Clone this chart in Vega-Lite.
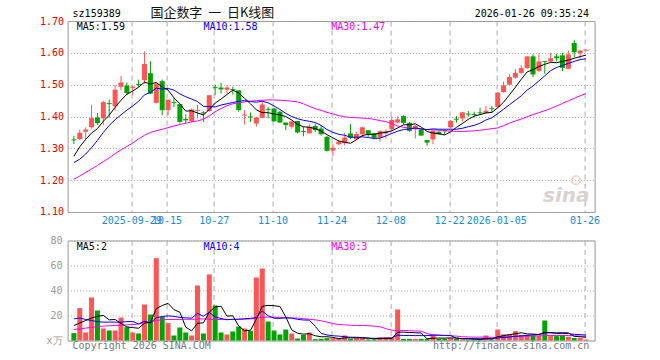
{
  "$schema": "https://vega.github.io/schema/vega-lite/v6.json",
  "background": "white",
  "padding": {"left": 38.6, "top": 6, "right": 0, "bottom": 0},
  "bounds": "flush",
  "spacing": 28.5,
  "config": {
    "view": {"stroke": "#999", "strokeWidth": 1},
    "axis": {"labelFont": "DejaVu Sans Mono", "labelFontSize": 10, "ticks": false, "domain": false, "title": null}
  },
  "datasets": {
    "k": [
      {"i":0,"o":1.328,"h":1.339,"l":1.314,"c":1.325,"m5":1.275,"m10":1.255,"m30":1.203,"v":5.9,"v5":12,"v10":17.3,"v30":8.8},
      {"i":1,"o":1.329,"h":1.359,"l":1.326,"c":1.349,"m5":1.305,"m10":1.266,"m30":1.213,"v":25.9,"v5":14,"v10":18,"v30":9.3},
      {"i":2,"o":1.352,"h":1.366,"l":1.328,"c":1.359,"m5":1.328,"m10":1.282,"m30":1.224,"v":6.4,"v5":16,"v10":16.8,"v30":9.9},
      {"i":3,"o":1.366,"h":1.437,"l":1.362,"c":1.395,"m5":1.348,"m10":1.302,"m30":1.235,"v":34.4,"v5":18,"v10":16,"v30":10.5},
      {"i":4,"o":1.397,"h":1.411,"l":1.373,"c":1.379,"m5":1.362,"m10":1.325,"m30":1.246,"v":24,"v5":19.3,"v10":15,"v30":11},
      {"i":5,"o":1.394,"h":1.449,"l":1.373,"c":1.445,"m5":1.385,"m10":1.35,"m30":1.258,"v":9.6,"v5":20.1,"v10":14.7,"v30":11.5},
      {"i":6,"o":1.442,"h":1.453,"l":1.396,"c":1.439,"m5":1.404,"m10":1.372,"m30":1.27,"v":8,"v5":16.5,"v10":14.7,"v30":11.8},
      {"i":7,"o":1.432,"h":1.498,"l":1.418,"c":1.484,"m5":1.429,"m10":1.39,"m30":1.283,"v":8,"v5":16.8,"v10":14.7,"v30":12},
      {"i":8,"o":1.493,"h":1.527,"l":1.482,"c":1.507,"m5":1.451,"m10":1.405,"m30":1.295,"v":18.4,"v5":13.6,"v10":14.7,"v30":12.2},
      {"i":9,"o":1.497,"h":1.507,"l":1.467,"c":1.474,"m5":1.47,"m10":1.42,"m30":1.306,"v":10.7,"v5":10.9,"v10":15.1,"v30":12.5},
      {"i":10,"o":1.49,"h":1.494,"l":1.467,"c":1.494,"m5":1.48,"m10":1.433,"m30":1.316,"v":6.4,"v5":10.3,"v10":15.2,"v30":12.8},
      {"i":11,"o":1.502,"h":1.516,"l":1.493,"c":1.499,"m5":1.492,"m10":1.448,"m30":1.33,"v":5.6,"v5":9.8,"v10":13.2,"v30":13.2},
      {"i":12,"o":1.514,"h":1.604,"l":1.503,"c":1.565,"m5":1.508,"m10":1.468,"m30":1.341,"v":28.8,"v5":14,"v10":15.4,"v30":14},
      {"i":13,"o":1.536,"h":1.574,"l":1.47,"c":1.472,"m5":1.502,"m10":1.476,"m30":1.35,"v":20.8,"v5":14.5,"v10":14,"v30":15},
      {"i":14,"o":1.443,"h":1.508,"l":1.441,"c":1.503,"m5":1.507,"m10":1.489,"m30":1.355,"v":65.9,"v5":25.5,"v10":18.2,"v30":16},
      {"i":15,"o":1.511,"h":1.516,"l":1.404,"c":1.42,"m5":1.493,"m10":1.486,"m30":1.36,"v":18.9,"v5":28,"v10":19.2,"v30":16.5},
      {"i":16,"o":1.42,"h":1.453,"l":1.403,"c":1.453,"m5":1.483,"m10":1.488,"m30":1.365,"v":13.9,"v5":29.7,"v10":19.7,"v30":16.8},
      {"i":17,"o":1.445,"h":1.459,"l":1.43,"c":1.442,"m5":1.459,"m10":1.483,"m30":1.37,"v":4,"v5":24.7,"v10":19.3,"v30":16.8},
      {"i":18,"o":1.439,"h":1.439,"l":1.378,"c":1.383,"m5":1.44,"m10":1.471,"m30":1.375,"v":10.4,"v5":22.6,"v10":18.5,"v30":16.8},
      {"i":19,"o":1.392,"h":1.407,"l":1.378,"c":1.388,"m5":1.417,"m10":1.462,"m30":1.379,"v":6.4,"v5":10.7,"v10":18.1,"v30":16.9},
      {"i":20,"o":1.385,"h":1.425,"l":1.383,"c":1.422,"m5":1.418,"m10":1.455,"m30":1.383,"v":4,"v5":7.7,"v10":17.9,"v30":17},
      {"i":21,"o":1.418,"h":1.436,"l":1.394,"c":1.421,"m5":1.411,"m10":1.447,"m30":1.386,"v":44,"v5":13.8,"v10":21.7,"v30":17.1},
      {"i":22,"o":1.413,"h":1.417,"l":1.383,"c":1.41,"m5":1.405,"m10":1.432,"m30":1.392,"v":5.6,"v5":14.1,"v10":19.4,"v30":17.3},
      {"i":23,"o":1.417,"h":1.467,"l":1.415,"c":1.467,"m5":1.422,"m10":1.431,"m30":1.402,"v":52.8,"v5":22.6,"v10":22.6,"v30":17},
      {"i":24,"o":1.492,"h":1.5,"l":1.467,"c":1.489,"m5":1.442,"m10":1.43,"m30":1.415,"v":28,"v5":26.9,"v10":18.8,"v30":16.8},
      {"i":25,"o":1.491,"h":1.506,"l":1.472,"c":1.485,"m5":1.455,"m10":1.436,"m30":1.425,"v":6.4,"v5":27.4,"v10":17.6,"v30":16.8},
      {"i":26,"o":1.484,"h":1.498,"l":1.472,"c":1.491,"m5":1.469,"m10":1.44,"m30":1.434,"v":4.8,"v5":19.5,"v10":16.6,"v30":16.8},
      {"i":27,"o":1.486,"h":1.494,"l":1.469,"c":1.483,"m5":1.483,"m10":1.444,"m30":1.44,"v":7.2,"v5":19.8,"v10":17,"v30":16.8},
      {"i":28,"o":1.482,"h":1.482,"l":1.415,"c":1.42,"m5":1.474,"m10":1.448,"m30":1.443,"v":11.2,"v5":11.5,"v10":17,"v30":17},
      {"i":29,"o":1.403,"h":1.42,"l":1.375,"c":1.406,"m5":1.457,"m10":1.45,"m30":1.446,"v":9.6,"v5":7.8,"v10":17.4,"v30":17.1},
      {"i":30,"o":1.4,"h":1.413,"l":1.383,"c":1.397,"m5":1.44,"m10":1.447,"m30":1.448,"v":7.7,"v5":8.1,"v10":17.7,"v30":17.3},
      {"i":31,"o":1.378,"h":1.399,"l":1.368,"c":1.397,"m5":1.421,"m10":1.445,"m30":1.45,"v":50.4,"v5":17.2,"v10":18.4,"v30":17.8},
      {"i":32,"o":1.396,"h":1.446,"l":1.394,"c":1.438,"m5":1.412,"m10":1.448,"m30":1.451,"v":57.6,"v5":27.3,"v10":23.6,"v30":18.5},
      {"i":33,"o":1.424,"h":1.43,"l":1.394,"c":1.421,"m5":1.412,"m10":1.443,"m30":1.452,"v":15.2,"v5":28.1,"v10":19.8,"v30":18.7},
      {"i":34,"o":1.425,"h":1.427,"l":1.383,"c":1.385,"m5":1.408,"m10":1.433,"m30":1.452,"v":8,"v5":27.8,"v10":17.8,"v30":18.6},
      {"i":35,"o":1.415,"h":1.417,"l":1.379,"c":1.381,"m5":1.405,"m10":1.422,"m30":1.451,"v":4.8,"v5":27.2,"v10":17.7,"v30":18.4},
      {"i":36,"o":1.381,"h":1.381,"l":1.357,"c":1.373,"m5":1.4,"m10":1.41,"m30":1.45,"v":8.8,"v5":18.9,"v10":18.1,"v30":18.2},
      {"i":37,"o":1.368,"h":1.385,"l":1.362,"c":1.385,"m5":1.389,"m10":1.4,"m30":1.448,"v":5.6,"v5":8.5,"v10":17.9,"v30":18},
      {"i":38,"o":1.386,"h":1.386,"l":1.347,"c":1.35,"m5":1.375,"m10":1.393,"m30":1.446,"v":1.6,"v5":5.8,"v10":16.9,"v30":17.9},
      {"i":39,"o":1.354,"h":1.368,"l":1.338,"c":1.351,"m5":1.368,"m10":1.388,"m30":1.44,"v":4.5,"v5":5.1,"v10":16.4,"v30":17.5},
      {"i":40,"o":1.347,"h":1.375,"l":1.347,"c":1.368,"m5":1.366,"m10":1.385,"m30":1.432,"v":6.4,"v5":5.4,"v10":16.3,"v30":17},
      {"i":41,"o":1.37,"h":1.378,"l":1.352,"c":1.357,"m5":1.362,"m10":1.381,"m30":1.425,"v":1.1,"v5":3.8,"v10":11.4,"v30":16.5},
      {"i":42,"o":1.362,"h":1.373,"l":1.34,"c":1.344,"m5":1.354,"m10":1.372,"m30":1.419,"v":1.3,"v5":3,"v10":5.7,"v30":15.8},
      {"i":43,"o":1.336,"h":1.339,"l":1.29,"c":1.292,"m5":1.343,"m10":1.359,"m30":1.413,"v":1.9,"v5":3,"v10":4.4,"v30":14.7},
      {"i":44,"o":1.293,"h":1.314,"l":1.276,"c":1.302,"m5":1.333,"m10":1.35,"m30":1.408,"v":1.9,"v5":2.5,"v10":3.8,"v30":13.5},
      {"i":45,"o":1.313,"h":1.326,"l":1.31,"c":1.321,"m5":1.323,"m10":1.344,"m30":1.403,"v":1.5,"v5":1.5,"v10":3.5,"v30":12.8},
      {"i":46,"o":1.316,"h":1.349,"l":1.31,"c":1.334,"m5":1.319,"m10":1.341,"m30":1.399,"v":4,"v5":2.1,"v10":3,"v30":12.5},
      {"i":47,"o":1.347,"h":1.376,"l":1.329,"c":1.333,"m5":1.316,"m10":1.335,"m30":1.397,"v":1.3,"v5":2.1,"v10":2.6,"v30":12.2},
      {"i":48,"o":1.329,"h":1.352,"l":1.326,"c":1.345,"m5":1.327,"m10":1.335,"m30":1.396,"v":1.9,"v5":2.1,"v10":2.6,"v30":12},
      {"i":49,"o":1.344,"h":1.368,"l":1.336,"c":1.366,"m5":1.34,"m10":1.336,"m30":1.395,"v":1.9,"v5":2.1,"v10":2.3,"v30":12},
      {"i":50,"o":1.357,"h":1.357,"l":1.336,"c":1.344,"m5":1.344,"m10":1.334,"m30":1.394,"v":0.8,"v5":2,"v10":1.8,"v30":11.8},
      {"i":51,"o":1.347,"h":1.349,"l":1.328,"c":1.333,"m5":1.344,"m10":1.331,"m30":1.391,"v":0.8,"v5":1.3,"v10":1.7,"v30":11.5},
      {"i":52,"o":1.334,"h":1.357,"l":1.321,"c":1.354,"m5":1.348,"m10":1.332,"m30":1.387,"v":2.4,"v5":1.6,"v10":1.8,"v30":11},
      {"i":53,"o":1.347,"h":1.359,"l":1.331,"c":1.354,"m5":1.35,"m10":1.339,"m30":1.384,"v":2.4,"v5":1.7,"v10":1.9,"v30":9.5},
      {"i":54,"o":1.36,"h":1.401,"l":1.357,"c":1.389,"m5":1.355,"m10":1.347,"m30":1.378,"v":2.4,"v5":1.8,"v10":1.9,"v30":8.2},
      {"i":55,"o":1.381,"h":1.401,"l":1.378,"c":1.391,"m5":1.364,"m10":1.354,"m30":1.37,"v":24.8,"v5":6.6,"v10":4.3,"v30":8},
      {"i":56,"o":1.401,"h":1.404,"l":1.376,"c":1.38,"m5":1.374,"m10":1.359,"m30":1.366,"v":1.3,"v5":6.7,"v10":4,"v30":8},
      {"i":57,"o":1.38,"h":1.383,"l":1.352,"c":1.355,"m5":1.374,"m10":1.361,"m30":1.364,"v":1.3,"v5":6.4,"v10":4,"v30":7.8},
      {"i":58,"o":1.36,"h":1.373,"l":1.331,"c":1.371,"m5":1.377,"m10":1.364,"m30":1.362,"v":1.3,"v5":6.2,"v10":3.9,"v30":7.6},
      {"i":59,"o":1.359,"h":1.363,"l":1.34,"c":1.34,"m5":1.367,"m10":1.361,"m30":1.361,"v":1.3,"v5":6,"v10":3.9,"v30":7.5},
      {"i":60,"o":1.326,"h":1.326,"l":1.308,"c":1.318,"m5":1.353,"m10":1.359,"m30":1.359,"v":1.3,"v5":1.3,"v10":3.9,"v30":5.5},
      {"i":61,"o":1.328,"h":1.357,"l":1.313,"c":1.355,"m5":1.348,"m10":1.361,"m30":1.358,"v":4.5,"v5":1.9,"v10":4.3,"v30":4.5},
      {"i":62,"o":1.352,"h":1.355,"l":1.342,"c":1.344,"m5":1.346,"m10":1.36,"m30":1.357,"v":1.3,"v5":1.9,"v10":4.2,"v30":4.2},
      {"i":63,"o":1.357,"h":1.359,"l":1.342,"c":1.354,"m5":1.342,"m10":1.36,"m30":1.355,"v":1.3,"v5":1.9,"v10":4.1,"v30":4},
      {"i":64,"o":1.366,"h":1.389,"l":1.362,"c":1.386,"m5":1.352,"m10":1.36,"m30":1.354,"v":1.9,"v5":2.1,"v10":4,"v30":3.8},
      {"i":65,"o":1.393,"h":1.401,"l":1.381,"c":1.39,"m5":1.366,"m10":1.36,"m30":1.353,"v":1.3,"v5":2.1,"v10":1.7,"v30":3.5},
      {"i":66,"o":1.394,"h":1.415,"l":1.385,"c":1.413,"m5":1.378,"m10":1.363,"m30":1.353,"v":0.8,"v5":1.3,"v10":1.6,"v30":3},
      {"i":67,"o":1.409,"h":1.417,"l":1.399,"c":1.406,"m5":1.391,"m10":1.368,"m30":1.354,"v":0.5,"v5":1.2,"v10":1.6,"v30":2.8},
      {"i":68,"o":1.408,"h":1.415,"l":1.397,"c":1.405,"m5":1.401,"m10":1.372,"m30":1.355,"v":0.8,"v5":1.1,"v10":1.5,"v30":2.7},
      {"i":69,"o":1.413,"h":1.427,"l":1.404,"c":1.41,"m5":1.406,"m10":1.379,"m30":1.357,"v":0.5,"v5":0.8,"v10":1.4,"v30":2.7},
      {"i":70,"o":1.411,"h":1.433,"l":1.409,"c":1.418,"m5":1.411,"m10":1.389,"m30":1.359,"v":4,"v5":1.3,"v10":1.7,"v30":2.7},
      {"i":71,"o":1.426,"h":1.433,"l":1.413,"c":1.423,"m5":1.413,"m10":1.396,"m30":1.362,"v":0.8,"v5":1.3,"v10":1.3,"v30":2.5},
      {"i":72,"o":1.43,"h":1.477,"l":1.427,"c":1.475,"m5":1.427,"m10":1.409,"m30":1.364,"v":8.8,"v5":3,"v10":2.1,"v30":2.6},
      {"i":73,"o":1.477,"h":1.51,"l":1.475,"c":1.498,"m5":1.445,"m10":1.423,"m30":1.371,"v":5,"v5":3.8,"v10":2.4,"v30":2.8},
      {"i":74,"o":1.5,"h":1.534,"l":1.498,"c":1.524,"m5":1.468,"m10":1.437,"m30":1.379,"v":5,"v5":4.7,"v10":2.8,"v30":3},
      {"i":75,"o":1.522,"h":1.55,"l":1.519,"c":1.537,"m5":1.492,"m10":1.451,"m30":1.386,"v":7.5,"v5":5.4,"v10":3.4,"v30":3.2},
      {"i":76,"o":1.537,"h":1.562,"l":1.534,"c":1.552,"m5":1.517,"m10":1.465,"m30":1.392,"v":4.5,"v5":6.2,"v10":3.7,"v30":3.4},
      {"i":77,"o":1.552,"h":1.589,"l":1.55,"c":1.589,"m5":1.54,"m10":1.483,"m30":1.399,"v":4.5,"v5":5.3,"v10":4.1,"v30":3.5},
      {"i":78,"o":1.589,"h":1.595,"l":1.524,"c":1.532,"m5":1.547,"m10":1.496,"m30":1.406,"v":4,"v5":5.1,"v10":4.5,"v30":3.6},
      {"i":79,"o":1.543,"h":1.597,"l":1.54,"c":1.573,"m5":1.557,"m10":1.512,"m30":1.412,"v":3.5,"v5":4.8,"v10":4.8,"v30":3.7},
      {"i":80,"o":1.574,"h":1.574,"l":1.534,"c":1.571,"m5":1.564,"m10":1.528,"m30":1.418,"v":16,"v5":6.5,"v10":6,"v30":4},
      {"i":81,"o":1.573,"h":1.6,"l":1.571,"c":1.583,"m5":1.57,"m10":1.544,"m30":1.425,"v":3.5,"v5":6.3,"v10":6.2,"v30":4},
      {"i":82,"o":1.589,"h":1.597,"l":1.573,"c":1.583,"m5":1.569,"m10":1.554,"m30":1.433,"v":3.5,"v5":6.1,"v10":5.7,"v30":4},
      {"i":83,"o":1.592,"h":1.6,"l":1.543,"c":1.553,"m5":1.573,"m10":1.56,"m30":1.441,"v":4.5,"v5":6.2,"v10":5.7,"v30":4},
      {"i":84,"o":1.55,"h":1.607,"l":1.548,"c":1.595,"m5":1.577,"m10":1.567,"m30":1.449,"v":3,"v5":6.1,"v10":5.5,"v30":4},
      {"i":85,"o":1.631,"h":1.641,"l":1.586,"c":1.602,"m5":1.583,"m10":1.573,"m30":1.457,"v":2,"v5":3.3,"v10":4.9,"v30":3.8},
      {"i":86,"o":1.599,"h":1.61,"l":1.583,"c":1.607,"m5":1.588,"m10":1.579,"m30":1.465,"v":2,"v5":3,"v10":4.7,"v30":3.5},
      {"i":87,"o":1.607,"h":1.611,"l":1.606,"c":1.61,"m5":1.593,"m10":1.581,"m30":1.472,"v":0.8,"v5":2.5,"v10":4.3,"v30":3.3}
    ]
  },
  "vconcat": [
    {
      "width": 527,
      "height": 191,
      "layer": [
        {
          "data": {"values": [{"t": "sina"}]},
          "mark": {"type": "text", "align": "right", "baseline": "alphabetic", "font": "DejaVu Sans", "fontSize": 20, "fontStyle": "italic", "fontWeight": "bold", "color": "#d8d2d2"},
          "encoding": {"x": {"datum": 87.6}, "y": {"datum": 1.13}, "text": {"field": "t"}}
        },
        {
          "data": {"values": [{"t": "sina"}]},
          "mark": {"type": "point", "shape": "circle", "size": 70, "filled": false, "strokeWidth": 2, "color": "#efc4c4", "dx": 0},
          "encoding": {"x": {"datum": 85.3}, "y": {"datum": 1.2}}
        },
        {
          "data": {"name": "k"},
          "mark": {"type": "rule", "strokeWidth": 1},
          "encoding": {
            "x": {"field": "i", "type": "quantitative",
              "scale": {"domain": [-0.22, 87.61], "nice": false, "zero": false},
              "axis": {"values": [9.75, 15.75, 23.75, 33.75, 43.75, 53.75, 63.75, 71.75, 86.75], "tickCount": 20,
                "labelExpr": "datum.value < 10 ? '2025-09-29' : datum.value < 16 ? '10-15' : datum.value < 24 ? '10-27' : datum.value < 34 ? '11-10' : datum.value < 44 ? '11-24' : datum.value < 54 ? '12-08' : datum.value < 64 ? '12-22' : datum.value < 72 ? '2026-01-05' : '01-26'",
                "grid": true, "gridColor": "#aaa", "gridDash": [5, 4], "labelColor": "#148cdc",
                "labelPadding": 4, "labelOverlap": false, "labelFlush": 8, "title": null}},
            "y": {"field": "l", "type": "quantitative",
              "scale": {"domain": [1.1, 1.7], "nice": false, "zero": false},
              "axis": {"values": [1.1, 1.2, 1.3, 1.4, 1.5, 1.6, 1.7], "tickCount": 10, "format": ".2f", "labelColor": "#e60000",
                "grid": true, "gridColor": "#aaa", "gridDash": [1, 2], "labelPadding": 4, "labelOverlap": false, "labelBound": false, "title": null}},
            "y2": {"field": "h"},
            "color": {"condition": {"test": "datum.c >= datum.o", "value": "#ff5555"}, "value": "#00a300"}
          }
        },
        {
          "data": {"name": "k"},
          "mark": {"type": "bar", "width": 5},
          "encoding": {
            "x": {"field": "i", "type": "quantitative"},
            "y": {"field": "o", "type": "quantitative"},
            "y2": {"field": "c"},
            "color": {"condition": {"test": "datum.c >= datum.o", "value": "#ff5555"}, "value": "#00a300"}
          }
        },
        {
          "data": {"name": "k"},
          "mark": {"type": "line", "color": "#ff00ff", "strokeWidth": 1},
          "encoding": {"x": {"field": "i", "type": "quantitative"}, "y": {"field": "m30", "type": "quantitative"}}
        },
        {
          "data": {"name": "k"},
          "mark": {"type": "line", "color": "#0000ff", "strokeWidth": 1},
          "encoding": {"x": {"field": "i", "type": "quantitative"}, "y": {"field": "m10", "type": "quantitative"}}
        },
        {
          "data": {"name": "k"},
          "mark": {"type": "line", "color": "#000000", "strokeWidth": 1},
          "encoding": {"x": {"field": "i", "type": "quantitative"}, "y": {"field": "m5", "type": "quantitative"}}
        },
        {
          "data": {"values": [{"t": "sz159389"}]},
          "mark": {"type": "text", "align": "left", "baseline": "alphabetic", "font": "DejaVu Sans Mono", "fontSize": 10, "dy": -4, "color": "#000"},
          "encoding": {"x": {"datum": -0.22}, "y": {"datum": 1.7}, "text": {"field": "t"}}
        },
        {
          "data": {"values": [{"t": "国企数字\u00a0\u00a0一\u00a0\u00a0日K线图"}]},
          "mark": {"type": "text", "align": "left", "baseline": "alphabetic", "font": "Noto Sans CJK SC", "fontSize": 13, "dy": -4, "color": "#111"},
          "encoding": {"x": {"datum": 13.0}, "y": {"datum": 1.7}, "text": {"field": "t"}}
        },
        {
          "data": {"values": [{"t": "2026-01-26 09:35:24"}]},
          "mark": {"type": "text", "align": "right", "baseline": "alphabetic", "font": "DejaVu Sans Mono", "fontSize": 10, "dy": -4, "color": "#000"},
          "encoding": {"x": {"datum": 87.5}, "y": {"datum": 1.7}, "text": {"field": "t"}}
        },
        {
          "data": {"values": [{"t": "MA5:1.59", "p": 0.5, "col": "a"}, {"t": "MA10:1.58", "p": 22.0, "col": "b"}, {"t": "MA30:1.47", "p": 43.7, "col": "c"}]},
          "mark": {"type": "text", "align": "left", "baseline": "middle", "font": "DejaVu Sans Mono", "fontSize": 10, "dy": 5.5},
          "encoding": {
            "x": {"field": "p", "type": "quantitative"},
            "y": {"datum": 1.7},
            "text": {"field": "t"},
            "color": {"field": "col", "type": "nominal", "scale": {"domain": ["a", "b", "c"], "range": ["#000000", "#0000ff", "#ff00ff"]}, "legend": null}
          }
        }
      ]
    },
    {
      "width": 527,
      "height": 100,
      "layer": [
        {
          "data": {"name": "k"},
          "mark": {"type": "bar", "width": 5},
          "encoding": {
            "x": {"field": "i", "type": "quantitative",
              "scale": {"domain": [-0.22, 87.61], "nice": false, "zero": false},
              "axis": {"values": [9.75, 15.75, 23.75, 33.75, 43.75, 53.75, 63.75, 71.75, 86.75], "tickCount": 20, "labels": false,
                "grid": true, "gridColor": "#aaa", "gridDash": [5, 4], "title": null}},
            "y": {"field": "v", "type": "quantitative",
              "scale": {"domain": [0, 80], "nice": false},
              "axis": {"values": [0, 20, 40, 60, 80], "tickCount": 10, "labelExpr": "datum.value == 0 ? 'x万' : datum.label",
                "labelColor": "#9a9a9a", "grid": true, "gridColor": "#aaa", "gridDash": [1, 2], "labelPadding": 5.5, "labelOverlap": false, "labelBound": false, "title": null}},
            "color": {"condition": {"test": "datum.c >= datum.o", "value": "#ff5555"}, "value": "#00a300"}
          }
        },
        {
          "data": {"name": "k"},
          "mark": {"type": "line", "color": "#ff00ff", "strokeWidth": 1},
          "encoding": {"x": {"field": "i", "type": "quantitative"}, "y": {"field": "v30", "type": "quantitative"}}
        },
        {
          "data": {"name": "k"},
          "mark": {"type": "line", "color": "#0000ff", "strokeWidth": 1},
          "encoding": {"x": {"field": "i", "type": "quantitative"}, "y": {"field": "v10", "type": "quantitative"}}
        },
        {
          "data": {"name": "k"},
          "mark": {"type": "line", "color": "#000000", "strokeWidth": 1},
          "encoding": {"x": {"field": "i", "type": "quantitative"}, "y": {"field": "v5", "type": "quantitative"}}
        },
        {
          "data": {"values": [{"t": "MA5:2", "p": 0.5, "col": "a"}, {"t": "MA10:4", "p": 22.0, "col": "b"}, {"t": "MA30:3", "p": 43.7, "col": "c"}]},
          "mark": {"type": "text", "align": "left", "baseline": "middle", "font": "DejaVu Sans Mono", "fontSize": 10, "dy": 6.5},
          "encoding": {
            "x": {"field": "p", "type": "quantitative"},
            "y": {"datum": 80},
            "text": {"field": "t"},
            "color": {"field": "col", "type": "nominal", "scale": {"domain": ["a", "b", "c"], "range": ["#000000", "#0000ff", "#ff00ff"]}, "legend": null}
          }
        },
        {
          "data": {"values": [{"t": "Copyright 2026 SINA.COM"}]},
          "mark": {"type": "text", "align": "left", "baseline": "middle", "font": "DejaVu Sans Mono", "fontSize": 10, "dy": 6, "color": "#777"},
          "encoding": {"x": {"datum": -0.22}, "y": {"datum": 0}, "text": {"field": "t"}}
        },
        {
          "data": {"values": [{"t": "http://finance.sina.com.cn"}]},
          "mark": {"type": "text", "align": "right", "baseline": "middle", "font": "DejaVu Sans Mono", "fontSize": 10, "dy": 6, "color": "#777"},
          "encoding": {"x": {"datum": 87.56}, "y": {"datum": 0}, "text": {"field": "t"}}
        }
      ]
    }
  ]
}
